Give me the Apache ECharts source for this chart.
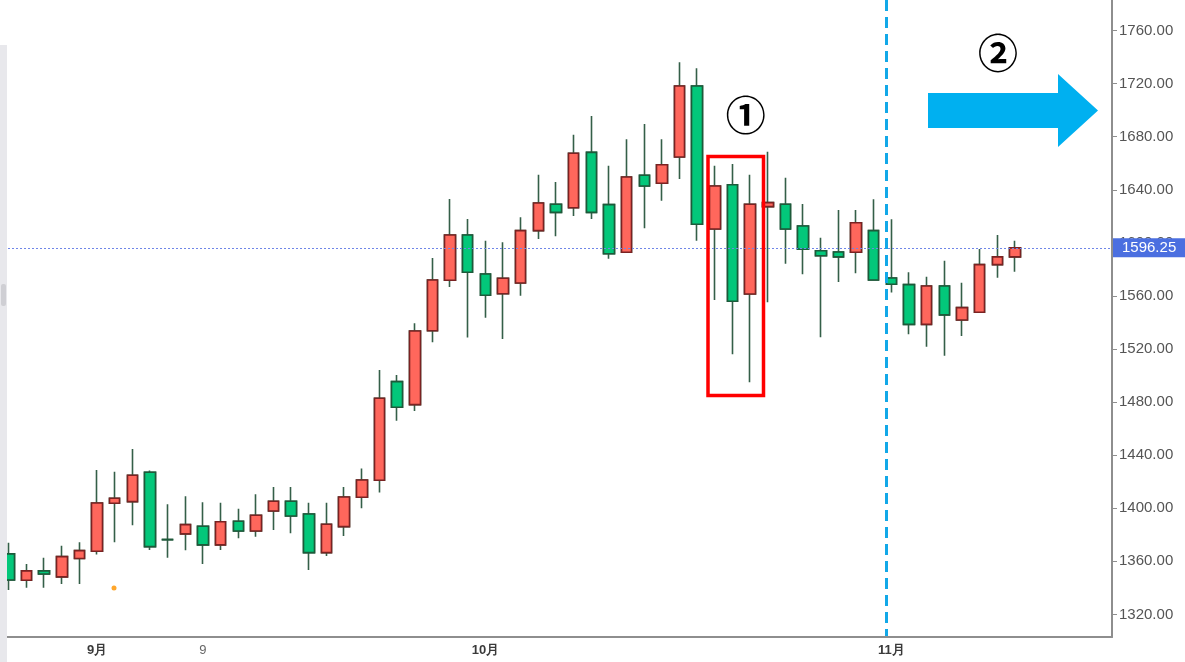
<!DOCTYPE html>
<html>
<head>
<meta charset="utf-8">
<title>K线</title>
<script src="https://cdn.jsdelivr.net/npm/echarts@6/dist/echarts.min.js"></script>
<style>
	html, body { margin: 0; padding: 0; background: #fff; }
	#kline { width: 1185px; height: 662px; }
</style>
</head>
<body>
<div id="kline"></div>
<script>
// 类目（交易日序号），右侧留空
const categories = [];
for (let i = 1; i <= 63; i++) categories.push('D' + i);

// x轴刻度位置与文字
const tickIndex = [5, 11, 17, 27, 33, 39, 50, 56, 62];
const tickText = ['9月', '9', '', '10月', '', '', '11月', '', ''];

// y轴刻度
const yTicks = [1320, 1360, 1400, 1440, 1480, 1520, 1560, 1600, 1640, 1680, 1720, 1760];
const lastPrice = 1596.25;

// 开 收 低 高
const opens = [1365.6, 1345.8, 1352.8, 1348.3, 1362.1, 1367.6, 1403.8, 1405.0, 1427.1, 1376.5,
	1380.7, 1386.5, 1372.4, 1390.2, 1382.9, 1398.0, 1405.3, 1395.7, 1366.6, 1386.2,
	1408.3, 1421.1, 1495.4, 1478.1, 1533.8, 1571.8, 1605.9, 1576.5, 1561.7, 1569.8,
	1609.2, 1629.1, 1626.5, 1668.2, 1628.8, 1592.9, 1650.9, 1644.9, 1664.7, 1718.2,
	1610.4, 1643.8, 1561.5, 1627.3, 1629.1, 1612.7, 1594.1, 1593.1, 1592.9, 1609.2,
	1573.5, 1568.5, 1538.6, 1567.5, 1541.9, 1547.7, 1583.6, 1589.4];
const closes = [1346.0, 1352.8, 1350.5, 1363.6, 1368.1, 1404.0, 1407.6, 1424.9, 1371.1, 1376.3,
	1387.7, 1372.4, 1389.9, 1382.9, 1394.7, 1405.3, 1394.2, 1366.6, 1388.0, 1408.5,
	1421.3, 1482.9, 1476.1, 1533.6, 1572.0, 1605.9, 1577.8, 1560.5, 1573.3, 1609.2,
	1630.0, 1623.0, 1667.5, 1623.0, 1591.8, 1649.6, 1642.8, 1658.9, 1718.2, 1614.0,
	1642.8, 1556.0, 1629.1, 1630.3, 1610.4, 1595.2, 1590.3, 1589.4, 1615.2, 1572.0,
	1568.8, 1538.6, 1567.5, 1545.7, 1551.2, 1583.6, 1589.4, 1596.25];
const lows = [1338.5, 1340.2, 1340.2, 1343.0, 1343.0, 1365.1, 1374.4, 1387.2, 1368.6, 1362.8,
	1368.4, 1358.1, 1368.6, 1377.4, 1378.6, 1383.7, 1381.2, 1353.5, 1364.1, 1379.2,
	1400.0, 1411.8, 1466.0, 1473.3, 1525.1, 1566.7, 1528.6, 1543.6, 1527.6, 1560.2,
	1602.9, 1605.0, 1620.2, 1618.0, 1588.1, 1592.5, 1611.0, 1631.8, 1648.1, 1601.6,
	1557.0, 1516.0, 1495.0, 1555.2, 1584.3, 1576.3, 1528.9, 1570.5, 1577.1, 1571.5,
	1562.5, 1531.1, 1521.8, 1515.0, 1529.8, 1547.5, 1573.8, 1578.3];
const highs = [1374.1, 1358.1, 1362.8, 1371.8, 1374.4, 1428.9, 1427.6, 1444.7, 1428.4, 1403.0,
	1409.1, 1404.5, 1404.2, 1399.7, 1410.6, 1416.1, 1416.1, 1404.2, 1404.2, 1416.1,
	1429.9, 1504.2, 1500.4, 1539.4, 1588.6, 1633.0, 1618.0, 1601.6, 1600.4, 1619.3,
	1651.4, 1645.9, 1681.5, 1695.6, 1658.1, 1678.0, 1689.6, 1678.0, 1736.0, 1731.5,
	1658.1, 1659.4, 1651.4, 1668.7, 1649.1, 1629.3, 1603.9, 1624.8, 1624.8, 1632.8,
	1617.8, 1577.8, 1574.5, 1586.6, 1570.0, 1595.4, 1605.9, 1601.6];

// 颜色
const upFill = '#ff675c', upBorder = '#7a2222';
const downFill = '#03c77a', downBorder = '#1d5a3a';
const wickColor = '#345f48';

// 整理K线数据
let kData = [], bodyData = [];
opens.forEach((o, i) => {
	kData.push([o, closes[i], lows[i], highs[i]]);
	bodyData.push([o, closes[i], Math.min(o, closes[i]), Math.max(o, closes[i])]);
});

let chart = echarts.init(document.getElementById('kline'));
let option = {
	animation: false,
	backgroundColor: '#fff',
	textStyle: { fontFamily: '"Liberation Sans", Arial, sans-serif' },
	grid: { left: 0, right: 73, top: 0, bottom: 25 },
	xAxis: {
		type: 'category',
		data: categories,
		boundaryGap: true,
		axisLine: { lineStyle: { color: '#8e8e8e', width: 2 } },
		axisTick: {
			alignWithLabel: true,
			length: 5,
			interval: (i) => tickIndex.includes(i),
			lineStyle: { color: '#8e8e8e' }
		},
		axisLabel: {
			interval: (i) => tickIndex.includes(i) && tickText[tickIndex.indexOf(i)] !== '',
			formatter: (v, i) => {
				let t = tickText[tickIndex.indexOf(i)] || '';
				return t.indexOf('月') > -1 ? '{b|' + t + '}' : '{n|' + t + '}';
			},
			margin: 7,
			rich: {
				b: { fontSize: 13, fontWeight: 'bold', color: '#3a3a3a' },
				n: { fontSize: 13, color: '#666' }
			}
		},
		splitLine: { show: false }
	},
	yAxis: {
		type: 'value',
		position: 'right',
		min: 1303,
		max: 1783,
		axisLine: { show: true, lineStyle: { color: '#8e8e8e', width: 2 } },
		axisTick: { show: true, length: 5, customValues: yTicks, lineStyle: { color: '#8e8e8e' } },
		axisLabel: {
			customValues: yTicks,
			formatter: (v) => v.toFixed(2),
			color: '#555',
			fontSize: 15,
			margin: 7
		},
		splitLine: { show: false }
	},
	series: [
		{
			// 影线
			name: 'wick',
			type: 'candlestick',
			data: kData,
			barWidth: 11,
			itemStyle: {
				color: upFill, color0: downFill,
				borderColor: wickColor, borderColor0: wickColor,
				borderWidth: 1.6
			},
			emphasis: { disabled: true }
		},
		{
			// 实体
			name: 'body',
			type: 'candlestick',
			data: bodyData,
			barWidth: 11,
			itemStyle: {
				color: upFill, color0: downFill,
				borderColor: upBorder, borderColor0: downBorder,
				borderWidth: 1.6
			},
			emphasis: { disabled: true },
			markLine: {
				symbol: 'none',
				silent: true,
				data: [{ yAxis: lastPrice }],
				lineStyle: { color: '#6f86e8', type: [2, 2], width: 1 },
				label: {
					position: 'end',
					distance: 1,
					formatter: lastPrice.toFixed(2),
					color: '#fff',
					backgroundColor: '#4b6fe0',
					fontSize: 15,
					padding: [2, 10, 2, 9]
				}
			}
		}
	],
	graphic: [
		// 左侧边框
		{ type: 'rect', z: 100, shape: { x: 0, y: 45, width: 7, height: 617 }, style: { fill: '#e8e8ec' } },
		{ type: 'rect', z: 101, shape: { x: 1, y: 284, width: 5, height: 22, r: 2 }, style: { fill: '#cfcfd4' } },
		// 竖虚线
		{ type: 'line', z: 50, shape: { x1: 886.5, y1: 0, x2: 886.5, y2: 636 },
			style: { stroke: '#12a8e8', lineWidth: 3, lineDash: [11, 6] } },
		// 红框
		{ type: 'rect', z: 50, shape: { x: 708, y: 156.5, width: 55.5, height: 239 },
			style: { fill: 'none', stroke: '#ff0000', lineWidth: 3.5 } },
		// 序号
		{ type: 'text', z: 50, style: { x: 745.7, y: 115, text: '①', fill: '#000',
			font: 'bold 40px "Noto Sans CJK JP"', align: 'center', verticalAlign: 'middle' } },
		{ type: 'text', z: 50, style: { x: 998, y: 53, text: '②', fill: '#000',
			font: 'bold 40px "Noto Sans CJK JP"', align: 'center', verticalAlign: 'middle' } },
		// 箭头
		{ type: 'polygon', z: 50,
			shape: { points: [[928, 93], [1058, 93], [1058, 74], [1098, 110.5], [1058, 147], [1058, 128], [928, 128]] },
			style: { fill: '#00b0f0' } },
		// 小橙点
		{ type: 'circle', z: 50, shape: { cx: 114, cy: 588, r: 2.5 }, style: { fill: '#ffa62b' } }
	]
};
chart.setOption(option);
</script>
</body>
</html>
